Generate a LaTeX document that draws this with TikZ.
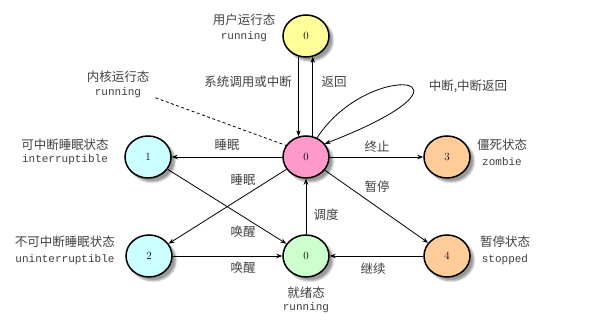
\documentclass[tikz,border=0pt]{standalone}
\usepackage{fontspec}
\setmonofont{Liberation Mono}
\newfontfamily\cjk{Noto Sans CJK SC}
\usetikzlibrary{arrows.meta, shapes.geometric, shadows.blur}

\definecolor{uyellow}{RGB}{255,255,153}
\definecolor{kpink}{RGB}{255,153,204}
\definecolor{scyan}{RGB}{204,255,255}
\definecolor{rgreen}{RGB}{204,255,204}
\definecolor{zorange}{RGB}{255,204,153}

\begin{document}
\begin{tikzpicture}[
    x=1pt, y=1pt,
    state/.style={
        ellipse,
        draw,
        line width=1.5pt,
        minimum width=46pt,
        minimum height=42pt,
        inner sep=0pt,
        font=\fontsize{11}{12}\selectfont,
        blur shadow={shadow xshift=4pt, shadow yshift=-4pt, shadow blur steps=5}
    },
    cname/.style={font=\cjk\fontsize{12.5}{14}\selectfont, text=black!75, inner sep=1pt},
    ename/.style={font=\ttfamily\fontsize{11}{12}\selectfont, text=black!75, inner sep=1pt},
    lbl/.style={font=\cjk\fontsize{12.5}{14}\selectfont, text=black!75, inner sep=1pt},
    arrow/.style={-{Stealth[length=6pt, width=4.5pt]}, line width=0.8pt}
]

\useasboundingbox (0,0) rectangle (595,326);

% states
\node[state, fill=uyellow] (user) at (306,290) {0};
\node[state, fill=kpink] (kern) at (306,169) {0};
\node[state, fill=scyan] (intr) at (148,169) {1};
\node[state, fill=zorange] (zomb) at (447,169) {3};
\node[state, fill=scyan] (unintr) at (149,70) {2};
\node[state, fill=rgreen] (ready) at (306,70) {0};
\node[state, fill=zorange] (stop) at (447,70) {4};

% state names
\node[cname] (usercn) at (244,306) {用户运行态};
\node[ename] (useren) at (244,289) {running};
\node[cname] (kerncn) at (118,249) {内核运行态};
\node[ename] (kernen) at (118,233) {running};
\node[cname] (intrcn) at (65,181) {可中断睡眠状态};
\node[ename] (intren) at (65,166) {interruptible};
\node[cname] (unintrcn) at (65,84) {不可中断睡眠状态};
\node[ename] (unintren) at (65,66) {uninterruptible};
\node[cname] (zombcn) at (502,181) {僵死状态};
\node[ename] (zomben) at (502,164) {zombie};
\node[cname] (stopcn) at (505,84) {暂停状态};
\node[ename] (stopen) at (505,66) {stopped};
\node[cname] (readycn) at (306,33) {就绪态};
\node[ename] (readyen) at (306,18) {running};

% transitions
\draw[arrow] (user.250) -- (kern.110);
\draw[arrow] (kern.72) -- (user.288);
\draw[arrow] (kern.60) .. controls +(52,80) and +(175,68) .. (kern.35);
\draw[arrow] (kern) -- (intr);
\draw[arrow] (kern) -- (zomb);
\draw[arrow] (kern) -- (unintr);
\draw[arrow] (kern) -- (stop);
\draw[arrow] (intr) -- (ready);
\draw[arrow] (unintr) -- (ready);
\draw[arrow] (stop) -- (ready);
\draw[arrow] (ready) -- (kern);
\draw[dashed, dash pattern=on 3pt off 2.5pt, line width=0.8pt, shorten <=14pt] (kernen.east) -- (kern.150);

% transition labels
\node[lbl] (lsys) at (248,244) {系统调用或中断};
\node[lbl] (lret) at (334,244) {返回};
\node[lbl] (lirq) at (468,240) {中断,中断返回};
\node[lbl] (lsleep) at (227,181) {睡眠};
\node[lbl] (lexit) at (377,179) {终止};
\node[lbl] (lsleepu) at (243,146) {睡眠};
\node[lbl] (lpause) at (377,139) {暂停};
\node[lbl] (lsched) at (326,111) {调度};
\node[lbl] (lwake) at (243,94) {唤醒};
\node[lbl] (lwakeu) at (243,58) {唤醒};
\node[lbl] (lcont) at (373,57) {继续};

\end{tikzpicture}
\end{document}
